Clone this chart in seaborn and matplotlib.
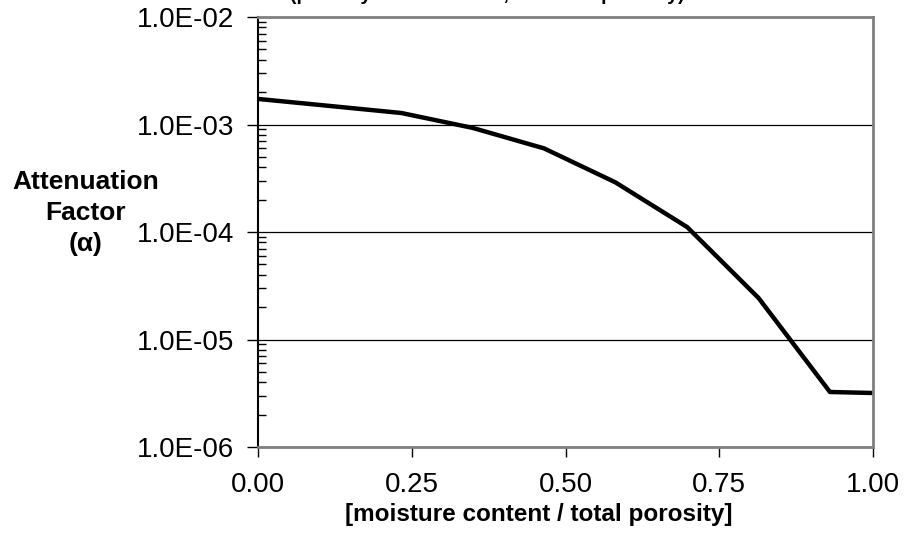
import matplotlib
matplotlib.use("Agg")
import matplotlib.pyplot as plt
import seaborn as sns
import pandas as pd
from matplotlib.ticker import FuncFormatter, LogLocator

# moisture content / total porosity (0.05 steps of moisture over porosity 0.43)
saturation = [0.0, 0.116, 0.233, 0.349, 0.465, 0.581, 0.698, 0.814, 0.930, 1.0]
alpha = [1.73e-3, 1.49e-3, 1.28e-3, 9.3e-4, 6.0e-4, 2.9e-4, 1.11e-4, 2.43e-5, 3.25e-6, 3.18e-6]
x_ticks = [0.0, 0.25, 0.5, 0.75, 1.0]
ylabel_lines = ["Attenuation", "Factor", "(\u03b1)"]

sns.set_style("white", {"text.color": "black", "xtick.color": "black", "ytick.color": "black",
                        "axes.labelcolor": "black"})
plt.rcParams['font.family'] = ['Liberation Sans', 'DejaVu Sans']

df = pd.DataFrame({"sat": saturation, "alpha": alpha})

fig = plt.figure(figsize=(9.07, 5.44), dpi=100)
ax = fig.add_axes([0.2845, 0.1783, 0.678, 0.7904])

sns.lineplot(data=df, x="sat", y="alpha", color="black", linewidth=3.2, ax=ax)

ax.set_yscale("log")
ax.set_ylim(1e-6, 1e-2)
ax.set_xlim(0, 1)

ax.yaxis.set_major_locator(LogLocator(base=10, numticks=10))
ax.yaxis.set_minor_locator(LogLocator(base=10, subs=range(2, 10), numticks=10))
ax.yaxis.set_major_formatter(FuncFormatter(lambda v, p: "%.1E" % v))
ax.set_xticks(x_ticks)
ax.xaxis.set_major_formatter(FuncFormatter(lambda v, p: "%.2f" % v))

ax.grid(axis="y", which="major", color="black", linewidth=0.9)
ax.set_axisbelow(True)

ax.tick_params(axis="y", which="major", direction="out", length=8, width=1, labelsize=20, pad=9,
               left=True, colors="black")
ax.tick_params(axis="y", which="minor", direction="in", length=6, width=1, left=True, colors="black")
ax.tick_params(axis="x", which="major", direction="out", length=7, width=1, labelsize=20, pad=11,
               bottom=True, colors="black")

for s in ["top", "right", "bottom"]:
    ax.spines[s].set_color("#808080")
    ax.spines[s].set_linewidth(2)
ax.spines["left"].set_color("black")
ax.spines["left"].set_linewidth(1.5)

ax.set_xlabel("")
ax.set_ylabel("")
fig.text(0.594, 0.055, "[moisture content / total porosity]", ha="center", va="center",
         fontsize=17.5, fontweight="bold", color="black")

# y label written line by line, centred left of the axis
for line, yf in zip(ylabel_lines, [0.666, 0.609, 0.552]):
    fig.text(0.094, yf, line, ha="center", va="center", fontsize=19, fontweight="bold", color="black")

# title sits mostly above the page, as in the source
fig.text(0.537, 0.993, "(partially saturated soil, constant porosity)", ha="center", va="bottom",
         fontsize=14, fontweight="bold", color="black")

fig.savefig("out.png", dpi=100)
